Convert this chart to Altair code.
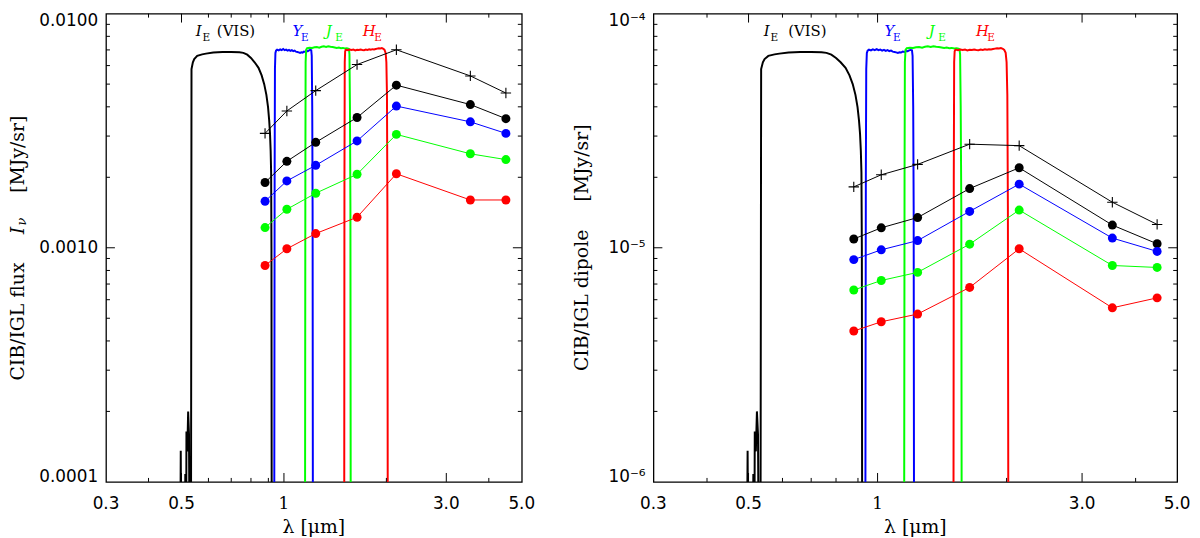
import altair as alt
import pandas as pd

# ---------------- data ----------------
# photometric wavelengths (micron)
lam_pts = [0.88, 1.02, 1.24, 1.64, 2.14, 3.53, 4.49]

# left panel: CIB/IGL flux I_nu [MJy/sr]
flux_total = [0.00308, 0.00384, 0.00469, 0.00606, 0.00701, 0.00542, 0.00458]
flux_black = [0.00190, 0.00234, 0.00282, 0.00360, 0.00495, 0.00409, 0.00356]
flux_blue = [0.00158, 0.00193, 0.00225, 0.00286, 0.00403, 0.00345, 0.00308]
flux_green = [0.00122, 0.00146, 0.00171, 0.00206, 0.00305, 0.00252, 0.00238]
flux_red = [0.00084, 0.00099, 0.00115, 0.00135, 0.00207, 0.00160, 0.00160]

# right panel: CIB/IGL dipole [MJy/sr]
dip_total = [1.82e-5, 2.05e-5, 2.27e-5, 2.77e-5, 2.73e-5, 1.565e-5, 1.258e-5]
dip_black = [1.09e-5, 1.217e-5, 1.346e-5, 1.79e-5, 2.196e-5, 1.25e-5, 1.04e-5]
dip_blue = [8.9e-6, 9.8e-6, 1.073e-5, 1.43e-5, 1.87e-5, 1.10e-5, 9.65e-6]
dip_green = [6.6e-6, 7.25e-6, 7.85e-6, 1.036e-5, 1.449e-5, 8.4e-6, 8.24e-6]
dip_red = [4.41e-6, 4.83e-6, 5.21e-6, 6.77e-6, 9.9e-6, 5.54e-6, 6.11e-6]

# Euclid filter transmission curves, as drawn in the left panel (arbitrary scaling)
IE_lam = [0.495, 0.4975, 0.500, 0.511, 0.513, 0.5145, 0.5155, 0.517, 0.520, 0.523,
          0.526, 0.529, 0.533, 0.535, 0.540, 0.545, 0.556, 0.575, 0.59, 0.62, 0.66,
          0.70, 0.74, 0.76, 0.78, 0.80, 0.82, 0.842, 0.86, 0.875, 0.888, 0.898,
          0.905, 0.910, 0.914, 0.917, 0.919, 0.921]
IE_val = [3e-5, 1.36e-4, 3e-5, 3e-5, 1.08e-4, 3e-5, 3e-5, 1.64e-4, 1.35e-4, 2.0e-4,
          1.6e-4, 3e-5, 3e-5, 0.0058, 0.0062, 0.0064, 0.0066, 0.0067, 0.00675, 0.00683,
          0.00686, 0.00686, 0.00684, 0.0068, 0.00668, 0.00647, 0.0062, 0.00587,
          0.00545, 0.0050, 0.0045, 0.00399, 0.0035, 0.00308, 0.0026, 0.00209, 0.001, 3e-5]

YE_lam = [0.936, 0.939, 0.941, 0.944, 0.948, 0.955, 0.965, 0.975, 0.985, 0.995, 1.005,
          1.015, 1.025, 1.035, 1.045, 1.055, 1.065, 1.075, 1.085, 1.095, 1.105, 1.115,
          1.125, 1.135, 1.145, 1.155, 1.165, 1.175, 1.185, 1.195, 1.203, 1.207, 1.211,
          1.214, 1.217]
YE_val = [3e-5, 0.002, 0.0058, 0.0068, 0.00695, 0.00702, 0.00697, 0.00704, 0.00699,
          0.00706, 0.00698, 0.00702, 0.00695, 0.00700, 0.00693, 0.00698, 0.00692,
          0.00695, 0.00688, 0.00686, 0.00683, 0.00680, 0.00684, 0.00682, 0.00689,
          0.00686, 0.00693, 0.00691, 0.00697, 0.00700, 0.00698, 0.0066, 0.004, 0.0015, 3e-5]

JE_lam = [1.153, 1.156, 1.158, 1.162, 1.17, 1.19, 1.21, 1.23, 1.25, 1.27, 1.29, 1.31,
          1.33, 1.35, 1.37, 1.39, 1.41, 1.43, 1.45, 1.47, 1.49, 1.51, 1.53, 1.545,
          1.553, 1.558, 1.563, 1.568, 1.572]
JE_val = [3e-5, 0.002, 0.0062, 0.0070, 0.00712, 0.00715, 0.00714, 0.00718, 0.0072,
          0.00716, 0.00722, 0.00725, 0.00721, 0.00726, 0.00722, 0.0072, 0.00717,
          0.00714, 0.00716, 0.00712, 0.00714, 0.0071, 0.00712, 0.00708, 0.00705,
          0.0067, 0.004, 0.0015, 3e-5]

HE_lam = [1.503, 1.506, 1.509, 1.513, 1.52, 1.54, 1.56, 1.58, 1.60, 1.62, 1.64, 1.66,
          1.68, 1.70, 1.72, 1.74, 1.76, 1.78, 1.80, 1.82, 1.84, 1.86, 1.88, 1.90, 1.92,
          1.94, 1.96, 1.975, 1.99, 2.0, 2.008, 2.014, 2.02]
HE_val = [3e-5, 0.002, 0.0062, 0.0069, 0.00702, 0.00698, 0.00703, 0.00699, 0.00702,
          0.00697, 0.00701, 0.00699, 0.00703, 0.00700, 0.00698, 0.00702, 0.00700,
          0.00704, 0.00701, 0.00705, 0.00703, 0.00706, 0.00709, 0.00712, 0.00710,
          0.00713, 0.00708, 0.00700, 0.0068, 0.0062, 0.0045, 0.0015, 3e-5]

# the same transmission curves are drawn in the right panel two decades lower
right_filter_norm = 0.01

# tick values / labels
x_label_vals = [0.3, 0.5, 1, 3, 5]
x_label_text = ["0.3", "0.5", "1", "3.0", "5.0"]
x_major_ticks = [0.5, 1, 3]
x_minor_ticks = [0.4, 0.6, 0.7, 0.8, 0.9, 2, 4]
y_left_decades = [0.0001, 0.001, 0.01]
y_left_text = ["0.0001", "0.0010", "0.0100"]
y_right_decades = [1e-6, 1e-5, 1e-4]
y_right_text = ["10⁻⁶", "10⁻⁵", "10⁻⁴"]

# band label anchors (micron, data units) per panel
ann_left = {"I": 0.5505, "VIS": 0.6351, "Y": 1.0603, "J": 1.3276, "H": 1.7055, "y": 0.0080}
ann_right = {"I": 0.5428, "VIS": 0.6185, "Y": 1.0384, "J": 1.3163, "H": 1.6961, "y": 8.0e-5}

# ---------------- helpers ----------------
BLUE, GREEN, RED, BLACK = "#0000ff", "#00ff00", "#ff0000", "#000000"
SANS, SERIF = "DejaVu Sans", "DejaVu Serif"
X_DOMAIN = [0.3, 5.0]
MAJOR_LEN, MINOR_LEN = 9, 4   # tick lengths in pixels
color_scale = alt.Scale(
    domain=["IE", "YE", "JE", "HE", "tot", "k", "b", "g", "r"],
    range=[BLACK, BLUE, GREEN, RED, BLACK, BLACK, BLUE, GREEN, RED],
)


def filter_df(norm):
    rows = []
    for band, lams, vals in [("IE", IE_lam, IE_val), ("YE", YE_lam, YE_val),
                             ("JE", JE_lam, JE_val), ("HE", HE_lam, HE_val)]:
        for l, v in zip(lams, vals):
            rows.append({"lam": l, "val": v * norm, "band": band})
    return pd.DataFrame(rows)


def points_df(series):
    rows = []
    for name, vals in series:
        for l, v in zip(lam_pts, vals):
            rows.append({"lam": l, "val": v, "series": name})
    return pd.DataFrame(rows)


def minor_y(decades):
    out = []
    for d in decades[:-1]:
        for k in range(2, 10):
            out.append(float(f"{k * d:.3g}"))
    return out


def decades_span(lo, hi):
    import math
    return math.log10(hi / lo)


def tick_df(ydom, ydecades, w, h):
    """Inward ticks as short segments; the pixel length is converted to a log-factor."""
    px_dec_x = w / decades_span(*X_DOMAIN)
    px_dec_y = h / decades_span(*ydom)
    rows = []
    tid = 0
    for vals, length in [(x_major_ticks, MAJOR_LEN), (x_minor_ticks, MINOR_LEN)]:
        f = 10 ** (length / px_dec_y)
        for v in vals:
            for y0, y1 in [(ydom[0], ydom[0] * f), (ydom[1], ydom[1] / f)]:
                rows += [{"id": tid, "k": 0, "lam": v, "val": y0},
                         {"id": tid, "k": 1, "lam": v, "val": y1}]
                tid += 1
    for vals, length in [(ydecades[1:-1], MAJOR_LEN), (minor_y(ydecades), MINOR_LEN)]:
        g = 10 ** (length / px_dec_x)
        for v in vals:
            for x0, x1 in [(X_DOMAIN[0], X_DOMAIN[0] * g), (X_DOMAIN[1], X_DOMAIN[1] / g)]:
                rows += [{"id": tid, "k": 0, "lam": x0, "val": v},
                         {"id": tid, "k": 1, "lam": x1, "val": v}]
                tid += 1
    return pd.DataFrame(rows)


def one(text):
    return pd.DataFrame({"t": [text]})


def panel(fdf, pdf, ydom, ydecades, ytext, w, h, ytitle_parts, ytitle_x, ann):
    xs = alt.Scale(type="log", domain=X_DOMAIN, nice=False)
    ys = alt.Scale(type="log", domain=ydom, nice=False)

    def X(field):
        return alt.X(field, scale=xs, axis=None)

    def Y(field):
        return alt.Y(field, scale=ys, axis=None)

    col = alt.Color("band:N", scale=color_scale, legend=None)
    filters = alt.Chart(fdf).mark_line(clip=True, strokeWidth=2).encode(
        x=X("lam:Q"), y=Y("val:Q"), color=col, detail="band:N")

    ticks = alt.Chart(tick_df(ydom, ydecades, w, h)).mark_line(
        strokeWidth=1, color="black").encode(
        x=X("lam:Q"), y=Y("val:Q"), detail="id:N", order="k:Q")

    pcol = alt.Color("series:N", scale=color_scale, legend=None)
    lines = alt.Chart(pdf).mark_line(strokeWidth=1).encode(
        x=X("lam:Q"), y=Y("val:Q"), color=pcol, detail="series:N")
    dots = alt.Chart(pdf).transform_filter("datum.series != 'tot'").mark_circle(
        size=82, opacity=1).encode(x=X("lam:Q"), y=Y("val:Q"), color=pcol)
    plus = alt.Chart(pdf).transform_filter("datum.series == 'tot'").mark_point(
        shape="M-1,0L1,0M0,-1L0,1", size=110, strokeWidth=1.1, filled=False, opacity=1
    ).encode(x=X("lam:Q"), y=Y("val:Q"), color=pcol)

    # tick labels
    xl = pd.DataFrame({"lam": x_label_vals, "txt": x_label_text})
    labels = [
        alt.Chart(xl).transform_filter("datum.txt != '1'").mark_text(
            baseline="top", font=SANS, fontSize=17, color="black").encode(
            x=X("lam:Q"), y=alt.value(h + 14), text="txt:N"),
        alt.Chart(xl).transform_filter("datum.txt == '1'").mark_text(
            baseline="top", font=SERIF, fontSize=17, color="black").encode(
            x=X("lam:Q"), y=alt.value(h + 14), text="txt:N"),
    ]
    yl = pd.DataFrame({"val": ydecades, "txt": ytext})
    for idx, dy, base in [(0, 0, "alphabetic"), (1, 0, "middle"), (2, 12, "alphabetic")]:
        labels.append(alt.Chart(yl.iloc[[idx]]).mark_text(
            align="right", baseline=base, dy=dy, font=SANS, fontSize=17, color="black").encode(
            x=alt.value(-8), y=Y("val:Q"), text="txt:N"))

    # axis titles
    titles = [alt.Chart(one("λ  [μm]")).mark_text(
        baseline="top", font=SERIF, fontSize=19, color="black").encode(
        x=alt.value(w / 2), y=alt.value(h + 37), text="t:N")]
    for txt, ypos, dx, size, style in ytitle_parts:
        titles.append(alt.Chart(one(txt)).mark_text(
            angle=270, align="center", baseline="middle", font=SERIF, fontSize=size,
            fontStyle=style, color="black").encode(
            x=alt.value(ytitle_x + dx), y=alt.value(ypos), text="t:N"))

    # band labels
    texts = []
    for key, sub_dx, color in [("I", 6.8, BLACK), ("Y", 8.5, BLUE), ("J", 9.5, GREEN), ("H", 11.5, RED)]:
        d = pd.DataFrame({"lam": [ann[key]], "val": [ann["y"]]})
        texts.append(alt.Chart(d).mark_text(
            text=key, align="left", baseline="alphabetic", font=SERIF,
            fontStyle="italic", fontSize=15, color=color).encode(x=X("lam:Q"), y=Y("val:Q")))
        texts.append(alt.Chart(d).mark_text(
            text="E", align="left", baseline="alphabetic", font=SERIF,
            fontSize=10.5, color=color, dx=sub_dx, dy=4.5).encode(x=X("lam:Q"), y=Y("val:Q")))
    dv = pd.DataFrame({"lam": [ann["VIS"]], "val": [ann["y"]]})
    texts.append(alt.Chart(dv).mark_text(
        text="(VIS)", align="left", baseline="alphabetic", font=SERIF,
        fontSize=15, color=BLACK).encode(x=X("lam:Q"), y=Y("val:Q")))

    return alt.layer(filters, ticks, lines, dots, plus, *labels, *titles, *texts).properties(
        width=w, height=h)


H = 473
left = panel(
    filter_df(1.0),
    points_df([("tot", flux_total), ("k", flux_black), ("b", flux_blue), ("g", flux_green), ("r", flux_red)]),
    [0.0001, 0.01], y_left_decades, y_left_text, 420, H,
    [("CIB/IGL flux", 311, 0, 19, "normal"), ("I", 219, 0, 19, "italic"),
     ("ν", 210, 4, 13, "italic"), ("[MJy/sr]", 142, 0, 19, "normal")],
    -89, ann_left,
)
right = panel(
    filter_df(right_filter_norm),
    points_df([("tot", dip_total), ("k", dip_black), ("b", dip_blue), ("g", dip_green), ("r", dip_red)]),
    [1e-6, 1e-4], y_right_decades, y_right_text, 529, H,
    [("CIB/IGL dipole\u2003\u2002[MJy/sr]", H / 2, 0, 19, "normal")],
    -72, ann_right,
)

chart = alt.hconcat(left, right, spacing=133, bounds="flush").properties(
    padding=0, background="white"
).configure_view(stroke="black", strokeWidth=1.3)

chart.save("out.html", embed_options={"renderer": "svg", "actions": False})
